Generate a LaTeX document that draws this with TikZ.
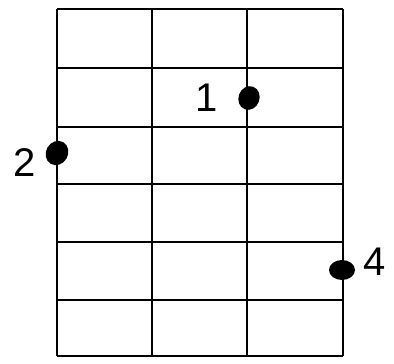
\documentclass[tikz,border=0pt]{standalone}
\usepackage{fontspec}
\setmainfont{Liberation Sans}
\usetikzlibrary{shapes.geometric}
\begin{document}
\begin{tikzpicture}[x=1pt,y=-1pt,
  gridline/.style={line width=2pt,black},
  fingerdot/.style={ellipse,fill=black,inner sep=0pt,outer sep=0pt},
  fingerlabel/.style={inner sep=0pt,font=\fontsize{40}{40}\selectfont}]
\useasboundingbox (0,0) rectangle (394,364);
% vertical strings
\foreach \x in {57,152,247,343} \draw[gridline] (\x,9) -- (\x,356);
% horizontal frets
\foreach \y in {9,68,127,184,242,300,356} \draw[gridline] (57,\y) -- (343,\y);
% dots
\node[fingerdot,minimum width=21pt,minimum height=24pt,rotate=-20] (d1) at (249,98) {};
\node[fingerdot,minimum width=22pt,minimum height=25pt,rotate=-30] (d2) at (57,153) {};
\node[fingerdot,minimum width=26pt,minimum height=20pt] (d4) at (342,270) {};
% labels
\node[fingerlabel] (l1) at (207,98) {1};
\node[fingerlabel] (l2) at (25,163) {2};
\node[fingerlabel] (l4) at (375,262) {4};
\end{tikzpicture}
\end{document}
